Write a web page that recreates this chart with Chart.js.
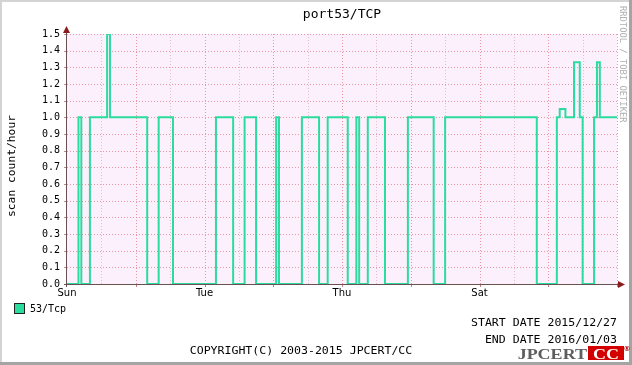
<!DOCTYPE html>
<html><head><meta charset="utf-8">
<script src="https://cdn.jsdelivr.net/npm/chart.js@4/dist/chart.umd.min.js"></script>
<style>html,body{margin:0;padding:0;background:#fff;}canvas{display:block;}</style>
</head><body>
<canvas id="c" width="632" height="365"></canvas>
<script>
// ---- data ----
const titleText = 'port53/TCP';
const yAxisTitle = 'scan count/hour';
const seriesName = '53/Tcp';
// hour offsets (from 2015/12/27 00:00) where the value changes, and the value held from there on
const changeHours  = [0, 4, 5, 8, 14, 15, 28, 32, 37, 52, 58, 62, 66, 73, 74, 82, 88, 91, 98, 101, 102, 105, 111, 119, 128, 132, 164, 171, 172, 174, 177, 179, 180, 184, 185, 186, 192];
const changeValues = [0, 1, 0, 1, 1.5, 1, 0, 1, 0, 1, 0, 1, 0, 1, 0, 1, 0, 1, 0, 1, 0, 1, 0, 1, 0, 1, 0, 1, 1.05, 1, 1.33, 1, 0, 1, 1.33, 1, 1];
const dayTickHours  = [0, 48, 96, 144];
const dayTickLabels = ['Sun', 'Tue', 'Thu', 'Sat'];
const yTickStep = 0.1, yMin = 0, yMax = 1.5;
const xMin = 0, xMax = 192, xGridStep = 12;
const startDate = 'START DATE 2015/12/27';
const endDate = 'END DATE 2016/01/03';
const copyright = 'COPYRIGHT(C) 2003-2015 JPCERT/CC';
const sideText = 'RRDTOOL / TOBI OETIKER';

const lineColor = '#2bdc9f';
const mono = '"DejaVu Sans Mono", monospace';

const points = changeHours.map((h, i) => ({x: h, y: changeValues[i]}));

function stretchText(ctx, text, x, y, font, sx, align) {
  ctx.save();
  ctx.font = font;
  ctx.textAlign = align;
  ctx.translate(x, y);
  ctx.scale(sx, 1);
  ctx.fillText(text, 0, 0);
  ctx.restore();
}

const rrdPlugin = {
  id: 'rrd',
  beforeDraw(chart) {
    const {ctx, chartArea: a} = chart;
    const xs = chart.scales.x, ys = chart.scales.y;
    ctx.save();
    ctx.fillStyle = '#fff';
    ctx.fillRect(0, 0, chart.width, chart.height);
    // frame
    ctx.fillStyle = '#d4d4d4';
    ctx.fillRect(0, 0, chart.width, 2);
    ctx.fillRect(0, 0, 2, chart.height);
    ctx.fillStyle = '#a4a4a4';
    ctx.fillRect(chart.width - 3, 0, 3, chart.height);
    ctx.fillRect(0, chart.height - 3, chart.width, 3);
    // plot background
    ctx.fillStyle = '#fdf0fd';
    ctx.fillRect(a.left, a.top, a.right - a.left, a.bottom - a.top);
    // grid
    ctx.lineWidth = 1;
    ys.ticks.forEach(t => {
      if (t.value <= yMin + 1e-9) return;
      const y = Math.round(ys.getPixelForValue(t.value)) + 0.5;
      ctx.setLineDash([1, 2]);
      ctx.strokeStyle = 'rgba(226,120,132,0.75)';
      ctx.beginPath(); ctx.moveTo(a.left, y); ctx.lineTo(a.right, y); ctx.stroke();
      ctx.setLineDash([]);
      ctx.strokeStyle = '#b09090';
      ctx.beginPath(); ctx.moveTo(a.left - 3, y); ctx.lineTo(a.left, y); ctx.stroke();
    });
    xs.ticks.forEach(t => {
      if (t.value <= xMin) return;
      const x = Math.round(xs.getPixelForValue(t.value)) + 0.5;
      const major = t.value % 24 === 0;
      ctx.setLineDash([1, 2]);
      ctx.strokeStyle = major ? 'rgba(226,120,132,0.75)' : 'rgba(200,150,160,0.55)';
      ctx.beginPath(); ctx.moveTo(x, a.top); ctx.lineTo(x, a.bottom); ctx.stroke();
      if (major) {
        ctx.setLineDash([]);
        ctx.strokeStyle = '#c08080';
        ctx.beginPath(); ctx.moveTo(x, a.bottom); ctx.lineTo(x, a.bottom + 3); ctx.stroke();
      }
    });
    ctx.restore();
  },
  afterDatasetsDraw(chart) {
    const {ctx, chartArea: a} = chart;
    ctx.save();
    ctx.strokeStyle = '#6a5050';
    ctx.lineWidth = 1;
    ctx.beginPath();
    ctx.moveTo(a.left - 0.5, a.bottom + 3); ctx.lineTo(a.left - 0.5, a.top - 3);
    ctx.moveTo(a.left - 3, a.bottom + 0.5); ctx.lineTo(a.right + 4, a.bottom + 0.5);
    ctx.stroke();
    ctx.fillStyle = '#8b1c1c';
    ctx.beginPath();
    ctx.moveTo(a.left - 4, a.top - 1); ctx.lineTo(a.left + 3, a.top - 1); ctx.lineTo(a.left - 0.5, a.top - 8); ctx.closePath(); ctx.fill();
    ctx.beginPath();
    ctx.moveTo(a.right + 1, a.bottom - 3); ctx.lineTo(a.right + 1, a.bottom + 4); ctx.lineTo(a.right + 8, a.bottom + 0.5); ctx.closePath(); ctx.fill();
    ctx.restore();
  },
  afterDraw(chart) {
    const {ctx, chartArea: a} = chart;
    ctx.save();
    ctx.fillStyle = '#000';
    // title
    ctx.font = '13px ' + mono;
    ctx.textAlign = 'center'; ctx.textBaseline = 'middle';
    ctx.fillText(titleText, (a.left + a.right) / 2, 15);
    // y title
    ctx.save();
    ctx.translate(12, 166);
    ctx.rotate(-Math.PI / 2);
    ctx.font = '11.3px ' + mono;
    ctx.fillText(yAxisTitle, 0, 0);
    ctx.restore();
    // side text
    ctx.save();
    ctx.translate(622, 6);
    ctx.rotate(Math.PI / 2);
    ctx.font = '8.8px ' + mono;
    ctx.fillStyle = '#b0b0b0';
    ctx.textAlign = 'left';
    ctx.fillText(sideText, 0, 0);
    ctx.restore();
    // legend
    ctx.fillStyle = lineColor;
    ctx.fillRect(15, 304, 9, 9);
    ctx.strokeStyle = '#222';
    ctx.lineWidth = 1;
    ctx.strokeRect(14.5, 303.5, 10, 10);
    ctx.fillStyle = '#000';
    ctx.font = '10px ' + mono;
    ctx.textAlign = 'left';
    ctx.fillText(seriesName, 30, 309);
    // dates
    stretchText(ctx, startDate, 617, 323, '10.5px ' + mono, 1.1, 'right');
    stretchText(ctx, endDate, 617, 340, '10.5px ' + mono, 1.1, 'right');
    stretchText(ctx, copyright, 301, 351, '10.5px ' + mono, 1.1, 'center');
    // logo
    ctx.textBaseline = 'alphabetic';
    ctx.fillStyle = '#5e5e5e';
    stretchText(ctx, 'JPCERT', 587, 359, 'bold 15px "Liberation Serif", serif', 1.2, 'right');
    ctx.fillStyle = '#d40000';
    ctx.fillRect(588, 346, 36, 14);
    ctx.fillStyle = '#fff';
    stretchText(ctx, 'CC', 606, 359, 'bold 15px "Liberation Serif", serif', 1.2, 'center');
    ctx.fillStyle = '#b00000';
    ctx.font = 'bold 7px "DejaVu Sans", sans-serif';
    ctx.textAlign = 'center';
    ctx.fillText('®', 627, 351);
    ctx.restore();
  }
};

new Chart(document.getElementById('c'), {
  type: 'line',
  data: {
    datasets: [{
      label: seriesName,
      data: points,
      stepped: true,
      borderColor: lineColor,
      backgroundColor: lineColor,
      borderWidth: 2,
      pointRadius: 0,
      fill: false,
      borderCapStyle: 'butt',
      borderJoinStyle: 'miter'
    }]
  },
  options: {
    responsive: false,
    animation: false,
    devicePixelRatio: 1,
    layout: {padding: {top: 34, right: 15, left: 0, bottom: 0}},
    plugins: {legend: {display: false}, tooltip: {enabled: false}, title: {display: false}},
    scales: {
      x: {
        type: 'linear', min: xMin, max: xMax,
        grid: {display: false, drawTicks: false},
        border: {display: false},
        afterFit: s => { s.height = 81; },
        afterBuildTicks: s => {
          const t = [];
          for (let v = xMin; v <= xMax; v += xGridStep) t.push({value: v});
          s.ticks = t;
        },
        ticks: {
          autoSkip: false, maxRotation: 0, padding: 3,
          font: {family: '"DejaVu Sans", sans-serif', size: 10}, color: '#000',
          callback: v => { const i = dayTickHours.indexOf(v); return i >= 0 ? dayTickLabels[i] : ''; }
        }
      },
      y: {
        type: 'linear', min: yMin, max: yMax,
        grid: {display: false, drawTicks: false},
        border: {display: false},
        afterFit: s => { s.width = 67; },
        ticks: {
          stepSize: yTickStep, autoSkip: false, padding: 7,
          font: {family: mono, size: 10}, color: '#000',
          callback: v => Number(v).toFixed(1)
        }
      }
    }
  },
  plugins: [rrdPlugin]
});
</script>
</body></html>
